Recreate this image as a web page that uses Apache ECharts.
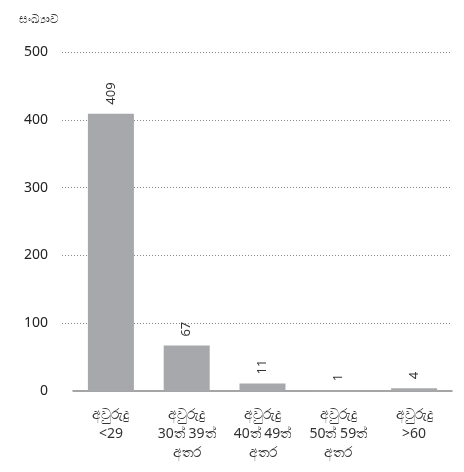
<!DOCTYPE html>
<html>
<head>
<meta charset="utf-8">
<script src="https://cdn.jsdelivr.net/npm/echarts@6/dist/echarts.min.js"></script>
<style>
html,body{margin:0;padding:0;background:#fff;}
#c{width:464px;height:472px;}
</style>
</head>
<body>
<div id="c"></div>
<script>
const categories = [
  'අවුරුදු\n<29',
  'අවුරුදු\n30ත් 39ත්\nඅතර',
  'අවුරුදු\n40ත් 49ත්\nඅතර',
  'අවුරුදු\n50ත් 59ත්\nඅතර',
  'අවුරුදු\n>60'
];
const values = [409, 67, 11, 1, 4];
const yTicks = [0, 100, 200, 300, 400, 500];
const yTitle = 'සංඛ්‍යාව';

const font = '"Noto Sans", "Open Sans", sans-serif';
const chart = echarts.init(document.getElementById('c'));
chart.setOption({
  animation: false,
  backgroundColor: '#fff',
  title: {
    text: yTitle, left: 14, top: 9,
    textStyle: {fontSize: 12, fontWeight: 'normal', color: '#333', fontFamily: font}
  },
  grid: [
    {left: 62, right: 12, top: 52, bottom: 81},
    {left: 73, right: 12, top: 52, bottom: 81}
  ],
  xAxis: [
    {gridIndex: 0, type: 'category', data: categories, show: false},
    {
      gridIndex: 1, type: 'category', data: categories,
      axisLine: {show: true, lineStyle: {color: '#888', width: 1.5}},
      axisTick: {show: false},
      axisLabel: {
        interval: 0, color: '#333', fontSize: 14, lineHeight: 19,
        margin: 15, fontFamily: font
      }
    }
  ],
  yAxis: [
    {
      gridIndex: 0, type: 'value', min: yTicks[0], max: yTicks[yTicks.length - 1], interval: 100,
      axisLine: {show: false}, axisTick: {show: false},
      axisLabel: {color: '#222', fontSize: 14, margin: 14, fontFamily: font},
      splitLine: {show: true, showMinLine: false, lineStyle: {type: [1, 2], color: '#888', width: 1}}
    },
    {
      gridIndex: 1, type: 'value', min: yTicks[0], max: yTicks[yTicks.length - 1], interval: 100,
      show: false, splitLine: {show: false}
    }
  ],
  series: [{
    type: 'bar', xAxisIndex: 1, yAxisIndex: 1,
    data: values, barWidth: 46,
    itemStyle: {color: '#a7a8ab'},
    label: {
      show: true, position: 'top', rotate: 90, align: 'left', verticalAlign: 'middle',
      distance: 9, color: '#333', fontSize: 13, fontFamily: font
    }
  }]
});
</script>
</body>
</html>
